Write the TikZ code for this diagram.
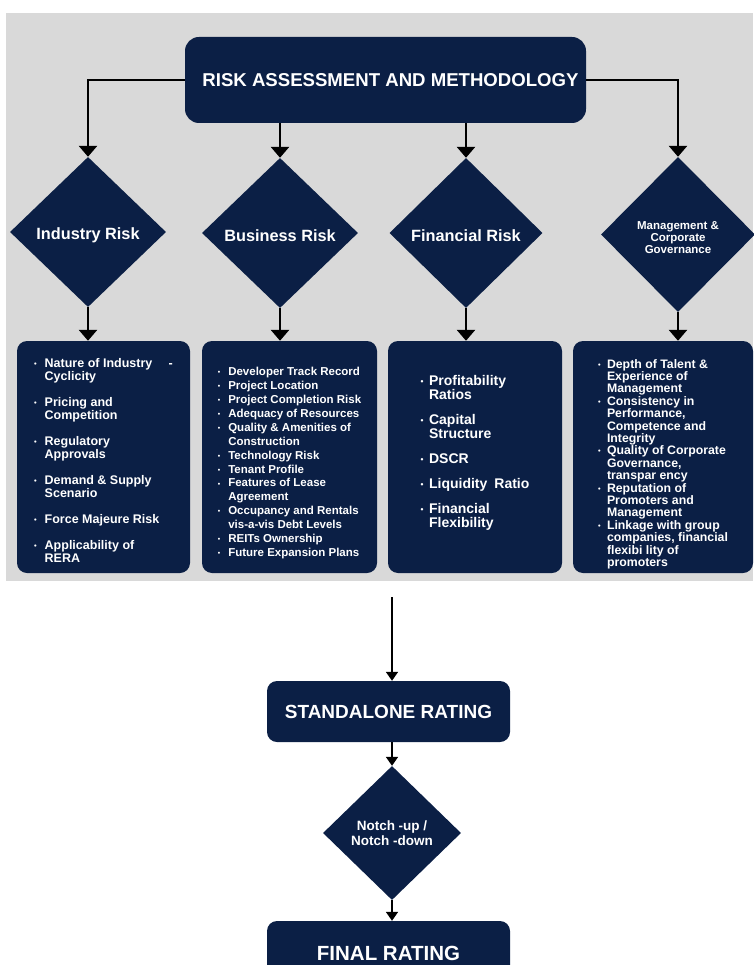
\documentclass[tikz,border=0pt]{standalone}
\usepackage{fontspec}
\setmainfont{Liberation Sans}
\usetikzlibrary{shapes.geometric,arrows.meta}
\definecolor{navyc}{RGB}{11,31,69}
\definecolor{greybg}{RGB}{217,217,217}
\newcommand{\bl}[1]{\makebox[#1][l]{\raisebox{0.15ex}{\scalebox{0.6}{•}}}}
\tikzset{
  navy/.style={fill=navyc, draw=none, text=white},
  topbox/.style={navy, rounded corners=14pt, minimum width=401pt, minimum height=86pt, inner sep=0pt,
    font=\fontsize{18.6}{20}\selectfont\bfseries},
  riskdia/.style={navy, diamond, inner sep=0pt, minimum width=156pt, minimum height=150pt, align=center,
    font=\fontsize{16.3}{18}\selectfont\bfseries},
  listbox/.style={navy, rounded corners=10pt, minimum height=232pt, inner sep=0pt, align=left},
  ratebox/.style={navy, rounded corners=10pt, minimum width=243pt, inner sep=0pt},
  conn/.style={line width=2.8pt, -{Triangle[width=18pt,length=11pt]}},
  thinconn/.style={line width=1.8pt, -{Triangle[width=12pt,length=9pt]}},
}
\begin{document}
\begin{tikzpicture}[x=1pt,y=-1pt]
\useasboundingbox (0,0) rectangle (753,965);
\fill[greybg] (6,13) rectangle (753,581);

\node[topbox] (top) at (385.5,80) {\hspace*{10pt}RISK ASSESSMENT AND METHODOLOGY};

\node[riskdia] (ind) at (88,232) {\rule{0pt}{18pt}Industry Risk};
\node[riskdia] (bus) at (280,233) {\rule{0pt}{18pt}Business Risk};
\node[riskdia, minimum width=153pt] (fin) at (466,233) {\rule{0pt}{18pt}Financial Risk};
\node[riskdia, minimum width=154pt, minimum height=155pt, font=\fontsize{11.5}{12}\selectfont\bfseries] (mgt) at (678,234.5) {\rule{0pt}{14pt}Management \&\\Corporate\\Governance};

\node[listbox, minimum width=173pt, font=\fontsize{12.5}{13}\selectfont\bfseries] (indbox) at (103.5,457) {%
\rule{0pt}{15pt}\bl{10.5pt}Nature of Industry\hspace{1.3em}-\\
\hspace*{10.5pt}Cyclicity\\[13pt]
\bl{10.5pt}Pricing and\\
\hspace*{10.5pt}Competition\\[13pt]
\bl{10.5pt}Regulatory\\
\hspace*{10.5pt}Approvals\\[13pt]
\bl{10.5pt}Demand \& Supply\\
\hspace*{10.5pt}Scenario\\[13pt]
\bl{10.5pt}Force Majeure Risk\\[13pt]
\bl{10.5pt}Applicability of\\
\hspace*{10.5pt}RERA};

\node[listbox, minimum width=175pt, font=\fontsize{11.5}{13.9}\selectfont\bfseries] (busbox) at (289.5,457) {%
\rule{0pt}{20.5pt}\bl{10.5pt}Developer Track Record\\
\bl{10.5pt}Project Location\\
\bl{10.5pt}Project Completion Risk\\
\bl{10.5pt}Adequacy of Resources\\
\bl{10.5pt}Quality \& Amenities of\\
\hspace*{10.5pt}Construction\\
\bl{10.5pt}Technology Risk\\
\bl{10.5pt}Tenant Profile\\
\bl{10.5pt}Features of Lease\\
\hspace*{10.5pt}Agreement\\
\bl{10.5pt}Occupancy and Rentals\\
\hspace*{10.5pt}vis-a-vis Debt Levels\\
\bl{10.5pt}REITs Ownership\\
\bl{10.5pt}Future Expansion Plans};

\node[listbox, minimum width=174pt, font=\fontsize{14}{14}\selectfont\bfseries] (finbox) at (475,457) {%
\bl{8.5pt}Profitability\\
\hspace*{8.5pt}Ratios\\[11pt]
\bl{8.5pt}Capital\\
\hspace*{8.5pt}Structure\\[11pt]
\bl{8.5pt}DSCR\\[11pt]
\bl{8.5pt}Liquidity\hspace{0.5em}Ratio\\[11pt]
\bl{8.5pt}Financial\\
\hspace*{8.5pt}Flexibility\rule[-11pt]{0pt}{11pt}};

\node[listbox, minimum width=180pt, font=\fontsize{12.3}{12.4}\selectfont\bfseries] (mgtbox) at (663,457) {%
\rule{0pt}{23pt}\bl{9pt}Depth of Talent \&\\
\hspace*{9pt}Experience of\\
\hspace*{9pt}Management\\
\bl{9pt}Consistency in\\
\hspace*{9pt}Performance,\\
\hspace*{9pt}Competence and\\
\hspace*{9pt}Integrity\\
\bl{9pt}Quality of Corporate\\
\hspace*{9pt}Governance,\\
\hspace*{9pt}transpar ency\\
\bl{9pt}Reputation of\\
\hspace*{9pt}Promoters and\\
\hspace*{9pt}Management\\
\bl{9pt}Linkage with group\\
\hspace*{9pt}companies, financial\\
\hspace*{9pt}flexibi lity of\\
\hspace*{9pt}promoters};

\draw[conn] (top.west) -| (ind.north);
\draw[conn] (top.east) -| (mgt.north);
\draw[conn] (top.south -| bus.north) -- (bus.north);
\draw[conn] (top.south -| fin.north) -- (fin.north);
\draw[conn] (ind.south) -- (ind.south |- indbox.north);
\draw[conn] (bus.south) -- (bus.south |- busbox.north);
\draw[conn] (fin.south) -- (fin.south |- finbox.north);
\draw[conn] (mgt.south) -- (mgt.south |- mgtbox.north);

\node[ratebox, minimum height=61pt, font=\fontsize{19}{21}\selectfont\bfseries] (sa) at (388.5,711.5) {STANDALONE RATING};
\node[navy, diamond, inner sep=0pt, minimum width=138pt, minimum height=134pt, align=center,
  font=\fontsize{13.5}{15}\selectfont\bfseries] (notch) at (392,833) {\rule[-4pt]{0pt}{4pt}Notch -up /\\Notch -down};
\node[ratebox, minimum height=64pt, font=\fontsize{20.5}{22}\selectfont\bfseries] (final) at (388.5,953) {FINAL RATING};

\coordinate (src) at (392,597);
\draw[thinconn] (src) -- (src |- sa.north);
\draw[thinconn] (sa.south -| notch.north) -- (notch.north);
\draw[thinconn] (notch.south) -- (notch.south |- final.north);
\end{tikzpicture}
\end{document}
